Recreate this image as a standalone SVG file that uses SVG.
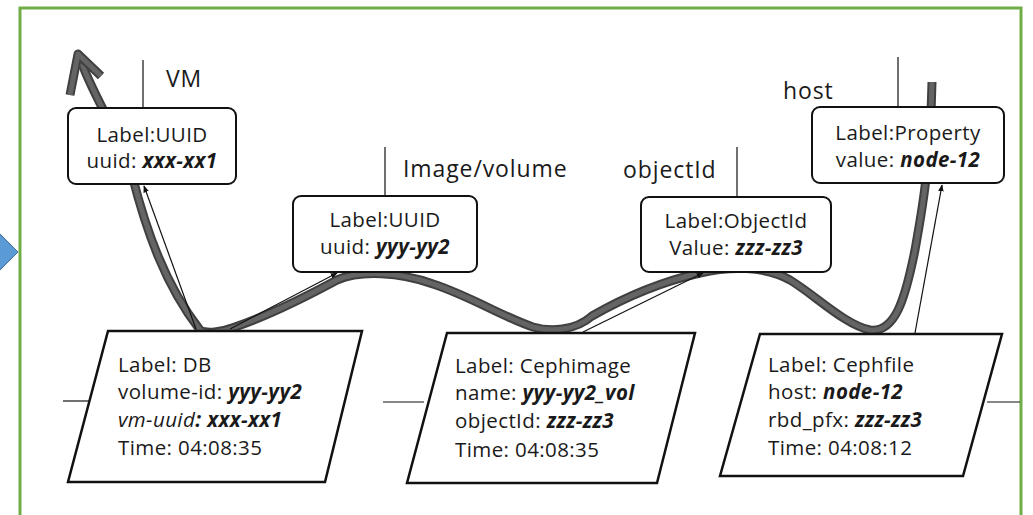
<svg xmlns="http://www.w3.org/2000/svg" width="1033" height="515" viewBox="0 0 1033 515">
  <defs>
    <marker id="tip" viewBox="0 0 10 10" refX="9" refY="5" markerWidth="7" markerHeight="7" orient="auto-start-reverse" markerUnits="userSpaceOnUse">
      <path d="M0,1 L10,5 L0,9 z" fill="#111"/>
    </marker>
    <style>
      .frame { fill: none; stroke: #70ad47; stroke-width: 3; }
      .pointer { fill: #5b9bd5; stroke: #41719c; stroke-width: 1; }
      .prop { fill: #ffffff; stroke: #111; stroke-width: 2; }
      .rec { fill: #ffffff; stroke: #111; stroke-width: 2.5; stroke-linejoin: miter; }
      .t { font-family: "Open Sans", "Noto Sans", "Liberation Sans", sans-serif; font-size: 20.5px; letter-spacing: 0.4px; fill: #1a1a1a; }
      .lbl { font-family: "Open Sans", "Noto Sans", "Liberation Sans", sans-serif; font-size: 23px; letter-spacing: 0.9px; fill: #1a1a1a; }
      .v { font-weight: bold; font-style: italic; }
      .i { font-style: italic; }
      .thin { fill: none; stroke: #111; stroke-width: 1.2; }
      .trail-o { fill: none; stroke: #404040; stroke-width: 9; stroke-linecap: butt; stroke-linejoin: round; }
      .trail-i { fill: none; stroke: #646464; stroke-width: 5; stroke-linecap: butt; stroke-linejoin: round; }
    </style>
  </defs>

  <rect width="1033" height="515" fill="#ffffff"/>

  <!-- outer frame and side pointer -->
  <rect class="frame" x="20" y="8" width="1001" height="520"/>
  <polygon class="pointer" points="-2,232 18,252 -2,272"/>

  <g id="connectors">
    <!-- thick trail running through the records -->
    <path class="trail-o" d="M80,58 C92,95 118,130 132,175 C146,230 165,285 200,330 C206,334 222,332 232,328 C262,318 300,300 337,280 C360,270 400,272 433,284 C470,296 505,318 533,327 C550,332 575,331 592,316 C620,300 660,282 700,273 C730,266 765,266 790,280 C815,295 845,325 870,330 C895,333 905,300 915,250 C922,210 930,170 932,82"/>
    <path class="trail-i" d="M80,58 C92,95 118,130 132,175 C146,230 165,285 200,330 C206,334 222,332 232,328 C262,318 300,300 337,280 C360,270 400,272 433,284 C470,296 505,318 533,327 C550,332 575,331 592,316 C620,300 660,282 700,273 C730,266 765,266 790,280 C815,295 845,325 870,330 C895,333 905,300 915,250 C922,210 930,170 932,82"/>
    <!-- trail head -->
    <polyline class="trail-o" points="70,95 78,54 101,76"/>
    <polyline class="trail-i" points="70,95 78,54 101,76"/>

    <!-- record to property links -->
    <line class="thin" x1="196" y1="329" x2="144" y2="186" marker-end="url(#tip)"/>
    <line class="thin" x1="230" y1="329" x2="337" y2="273" marker-end="url(#tip)"/>
    <line class="thin" x1="583" y1="332" x2="703" y2="273" marker-end="url(#tip)"/>
    <line class="thin" x1="915" y1="333" x2="942" y2="185" marker-end="url(#tip)"/>

    <!-- stubs -->
    <line class="thin" x1="143" y1="60" x2="143" y2="108"/>
    <line class="thin" x1="385" y1="147" x2="385" y2="196"/>
    <line class="thin" x1="737" y1="147" x2="737" y2="197"/>
    <line class="thin" x1="898" y1="57" x2="898" y2="107"/>
    <line class="thin" x1="63" y1="401" x2="92" y2="401"/>
    <line class="thin" x1="383" y1="402" x2="424" y2="402"/>
    <line class="thin" x1="987" y1="402" x2="1020" y2="402"/>

    <!-- link labels -->
    <text class="lbl" x="166" y="87">VM</text>
    <text class="lbl" x="403" y="177">Image/volume</text>
    <text class="lbl" x="623" y="178">objectId</text>
    <text class="lbl" x="783" y="99">host</text>
  </g>

  <!-- property nodes -->
  <g id="vm">
    <rect class="prop" x="68" y="108" width="168" height="76" rx="8"/>
    <text class="t" x="152" y="142" text-anchor="middle">Label:UUID</text>
    <text class="t" x="152" y="168" text-anchor="middle">uuid: <tspan class="v">xxx-xx1</tspan></text>
  </g>
  <g id="image">
    <rect class="prop" x="293" y="196" width="184" height="76" rx="8"/>
    <text class="t" x="385" y="227" text-anchor="middle">Label:UUID</text>
    <text class="t" x="385" y="254" text-anchor="middle">uuid: <tspan class="v">yyy-yy2</tspan></text>
  </g>
  <g id="objectid">
    <rect class="prop" x="641" y="197" width="190" height="75" rx="8"/>
    <text class="t" x="736" y="228" text-anchor="middle">Label:ObjectId</text>
    <text class="t" x="736" y="255" text-anchor="middle">Value: <tspan class="v">zzz-zz3</tspan></text>
  </g>
  <g id="property">
    <rect class="prop" x="812" y="107" width="192" height="76" rx="8"/>
    <text class="t" x="908" y="140" text-anchor="middle">Label:Property</text>
    <text class="t" x="908" y="167" text-anchor="middle">value: <tspan class="v">node-12</tspan></text>
  </g>

  <!-- record nodes -->
  <g id="db">
    <polygon class="rec" points="108,331 362,331 325,482 68,482"/>
    <text class="t" x="118" y="372">Label: DB</text>
    <text class="t" x="118" y="399">volume-id: <tspan class="v">yyy-yy2</tspan></text>
    <text class="t" x="118" y="427"><tspan class="i">vm-uuid</tspan><tspan class="v">: xxx-xx1</tspan></text>
    <text class="t" x="118" y="455">Time: 04:08:35</text>
  </g>
  <g id="cephimage">
    <polygon class="rec" points="447,333 695,333 657,483 407,483"/>
    <text class="t" x="455" y="373">Label: Cephimage</text>
    <text class="t" x="455" y="400">name: <tspan class="v">yyy-yy2_vol</tspan></text>
    <text class="t" x="455" y="428">objectId: <tspan class="v">zzz-zz3</tspan></text>
    <text class="t" x="455" y="457">Time: 04:08:35</text>
  </g>
  <g id="cephfile">
    <polygon class="rec" points="760,334 1002,334 963,476 720,476"/>
    <text class="t" x="768" y="372">Label: Cephfile</text>
    <text class="t" x="768" y="399">host: <tspan class="v">node-12</tspan></text>
    <text class="t" x="768" y="427">rbd_pfx: <tspan class="v">zzz-zz3</tspan></text>
    <text class="t" x="768" y="455">Time: 04:08:12</text>
  </g>
</svg>
